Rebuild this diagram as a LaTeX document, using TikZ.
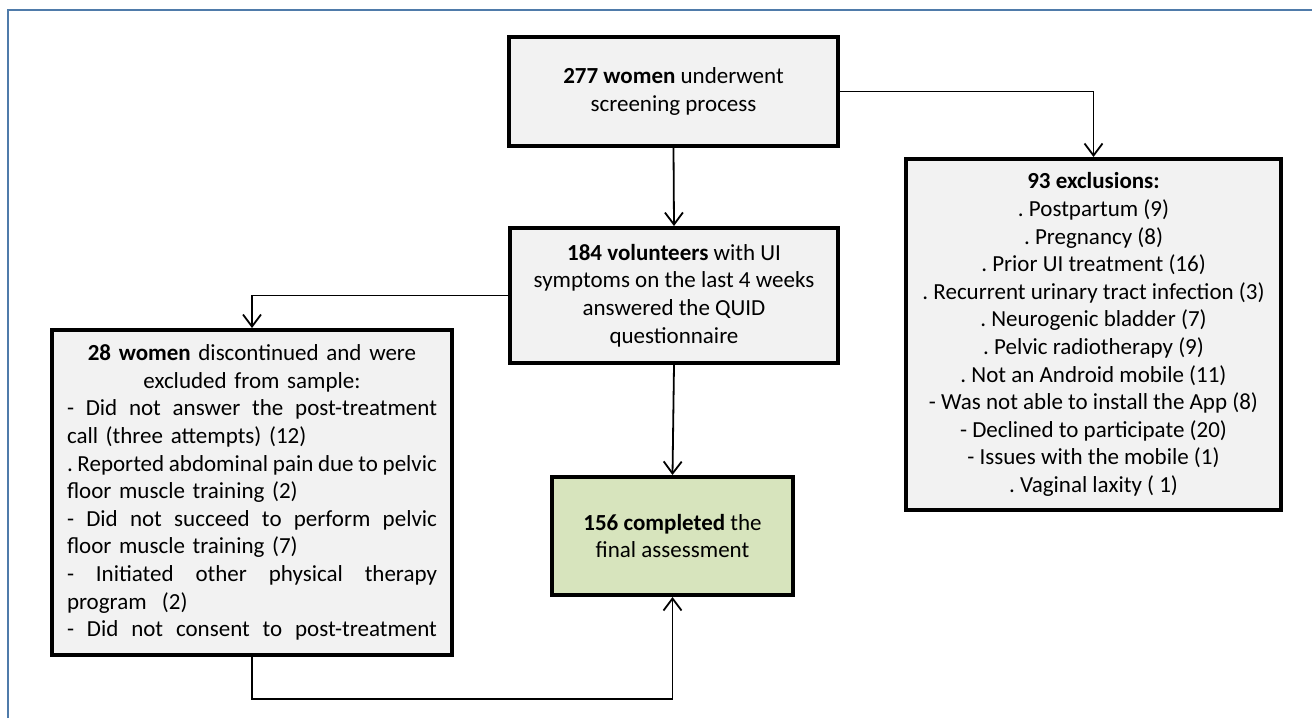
\documentclass[tikz,border=0pt]{standalone}
\usepackage{fontspec}
\setmainfont{Carlito}
\usetikzlibrary{arrows.meta,positioning}
\definecolor{frm}{HTML}{4F7BAA}
\definecolor{lt}{HTML}{F2F2F2}
\definecolor{grn}{HTML}{D7E4BD}
\newcommand{\jline}[1]{\leavevmode\hbox to 185pt{\spaceskip=2.6pt plus 20pt minus 1pt #1}}
\newcommand{\rline}[1]{\leavevmode\hbox to 185pt{#1\hfil}}
\tikzset{
  box/.style={draw=black,line width=2pt,fill=lt,align=center,inner sep=0pt,font=\fontsize{11.5}{13.8}\selectfont\frenchspacing},
  gbox/.style={box,fill=grn},
  ar/.style={-{Straight Barb[length=6pt,width=9pt]},line width=0.9pt},
}
\begin{document}
\begin{tikzpicture}[x=0.5pt,y=-0.5pt]
\useasboundingbox (0,0) rectangle (1312,718);
\draw[frm,line width=1.2pt] (8,718) -- (8,10) -- (1312,10);
\node[box,minimum width=164.5pt,minimum height=54.5pt] (scr) at (673.5,91.5) {\textbf{277 women} underwent\\screening process};
\node[box,minimum width=164pt,minimum height=67.5pt] (vol) at (674,295.5) {\textbf{184 volunteers} with UI\\symptoms on the last 4 weeks\\answered the QUID\\questionnaire};
\node[gbox,minimum width=120.5pt,minimum height=59pt] (fin) at (672.5,536) {\textbf{156 completed} the\\final assessment};
\node[box,minimum width=187.5pt,minimum height=175.5pt] (exc) at (1093.5,334.5) {\textbf{93 exclusions:}\\. Postpartum (9)\\. Pregnancy (8)\\. Prior UI treatment (16)\\. Recurrent urinary tract infection (3)\\. Neurogenic bladder (7)\\. Pelvic radiotherapy (9)\\. Not an Android mobile (11)\\- Was not able to install the App (8)\\- Declined to participate (20)\\- Issues with the mobile (1)\\. Vaginal laxity ( 1)};
\node[box,text width=185pt,minimum width=200pt,minimum height=162.5pt] (drop) at (252,492.5) {\textbf{28 women} discontinued and were\\excluded from sample:\\
  \jline{- Did not answer the post-treatment}\\\rline{call (three attempts) (12)}\\
  \jline{. Reported abdominal pain due to pelvic}\\\rline{floor muscle training (2)}\\
  \jline{- Did not succeed to perform pelvic}\\\rline{floor muscle training (7)}\\
  \jline{- Initiated other physical therapy}\\\rline{program\ \ (2)}\\
  \jline{- Did not consent to post-treatment}};
\coordinate (lo) at (252,699);
\draw[ar] (scr.east) -| (exc.north);
\draw[ar] (scr.south) -- (vol.north);
\draw[ar] (vol.west) -| (drop.north);
\draw[ar] (vol.south) -- (fin.north);
\draw[ar] (drop.south) -- (lo) -| (fin.south);
\end{tikzpicture}
\end{document}
